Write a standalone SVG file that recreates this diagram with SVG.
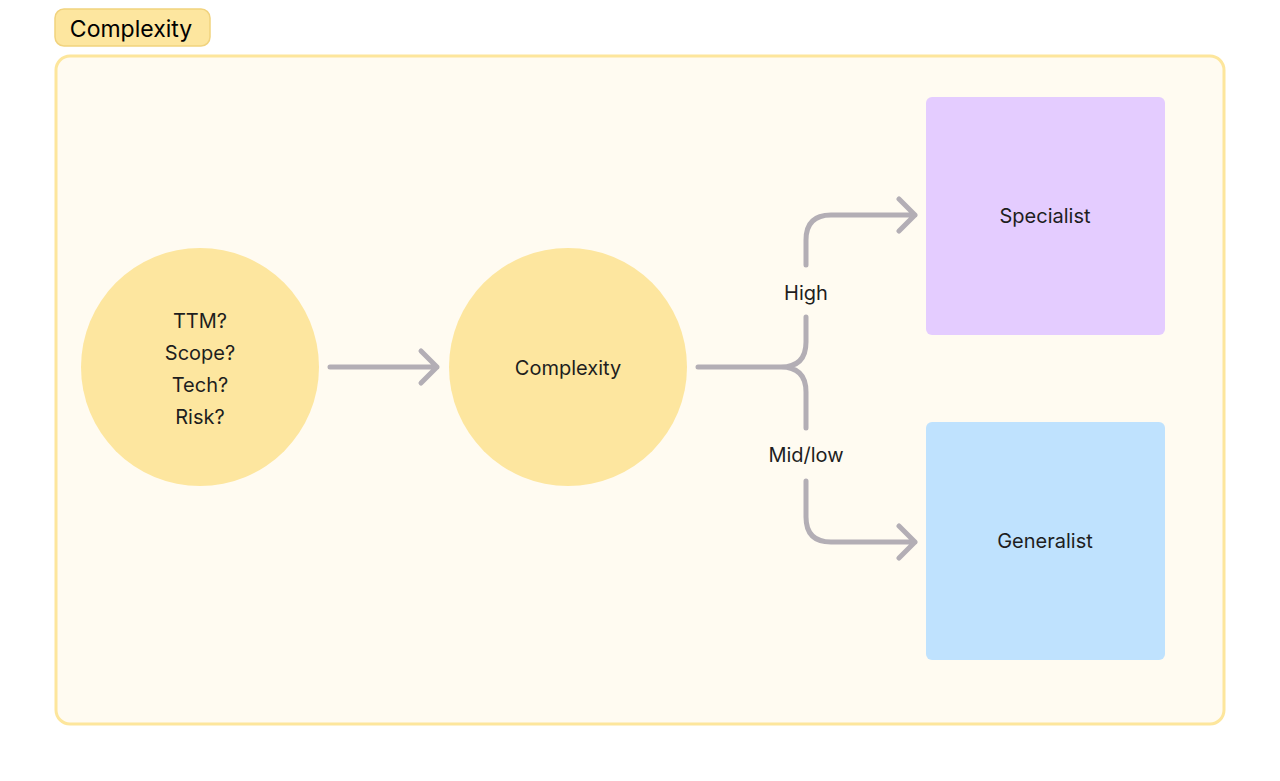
<svg xmlns="http://www.w3.org/2000/svg" width="1280" height="781" viewBox="0 0 1280 781">
<style>
.t{font-family:Inter,"Liberation Sans",sans-serif;font-size:20px;fill:#1e1e1e;text-anchor:middle}
.c{fill:none;stroke:#b3aeb5;stroke-width:5;stroke-linecap:round;stroke-linejoin:round}
</style>
<rect width="1280" height="781" fill="#fff"/>
<g id="frame">
<rect x="56" y="56" width="1168" height="668" rx="14" fill="#fffbf1" stroke="#fde69c" stroke-width="3"/>
<rect x="55" y="9" width="155" height="37" rx="9" fill="#fde69f" stroke="#f1d37e" stroke-width="1.5"/>
<text x="131" y="37" font-family="Inter,'Liberation Sans',sans-serif" font-size="23" fill="#000" text-anchor="middle">Complexity</text>
</g>
<g id="n1"><circle cx="200" cy="367" r="119" fill="#fde69f"/>
<text class="t" x="200" y="328">TTM?</text><text class="t" x="200" y="360">Scope?</text><text class="t" x="200" y="392">Tech?</text><text class="t" x="200" y="424">Risk?</text></g>
<g id="n2"><circle cx="568" cy="367" r="119" fill="#fde69f"/><text class="t" x="568" y="375">Complexity</text></g>
<g id="n3"><rect x="926" y="97" width="239" height="238" rx="6" fill="#e4ccff"/><text class="t" x="1045" y="223">Specialist</text></g>
<g id="n4"><rect x="926" y="422" width="239" height="238" rx="6" fill="#bfe2fe"/><text class="t" x="1045" y="548">Generalist</text></g>
<g id="connectors">
<path class="c" d="M330,367 H437 M421,351 L437,367 L421,383"/>
<path class="c" d="M698,367 H781 Q806,367 806,342 V317 M781,367 Q806,367 806,392 V428"/>
<path class="c" d="M806,265 V240 Q806,215 831,215 H915 M899,199 L915,215 L899,231"/>
<path class="c" d="M806,481 V517 Q806,542 831,542 H915 M899,526 L915,542 L899,558"/>
<text class="t" x="806" y="300">High</text>
<text class="t" x="806" y="462">Mid/low</text>
</g>
</svg>
